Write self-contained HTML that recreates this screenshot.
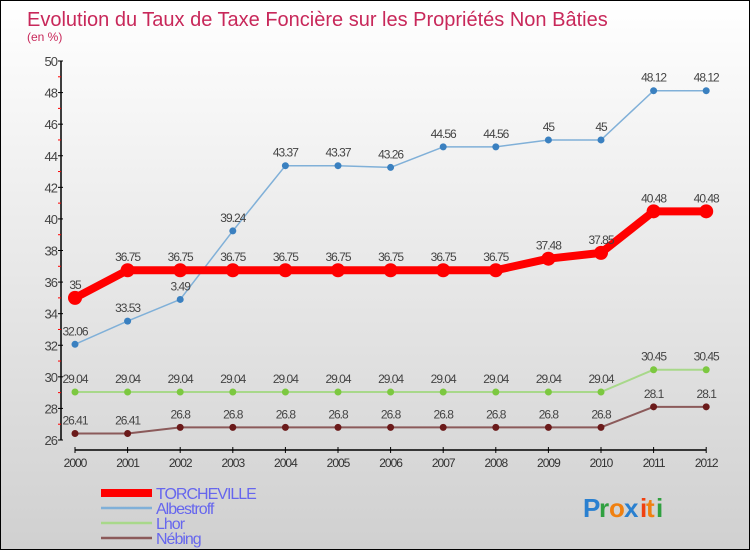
<!DOCTYPE html>
<html><head><meta charset="utf-8"><style>
body{margin:0}
#wrap{position:relative;width:748px;height:548px;border:1px solid #000;background:linear-gradient(#fff,#d0d0d0);font-family:"Liberation Sans",sans-serif;overflow:hidden}
</style></head><body>
<div id="wrap">
<svg id="svg" width="748" height="548"></svg>
</div>
<script>
const years=["2000","2001","2002","2003","2004","2005","2006","2007","2008","2009","2010","2011","2012"];
const torcheville=[35,36.75,36.75,36.75,36.75,36.75,36.75,36.75,36.75,37.48,37.85,40.48,40.48];
const albestroff=[32.06,33.53,34.9,39.24,43.37,43.37,43.26,44.56,44.56,45,45,48.12,48.12];
const albLabels=["32.06","33.53","3.49","39.24","43.37","43.37","43.26","44.56","44.56","45","45","48.12","48.12"];
const lhor=[29.04,29.04,29.04,29.04,29.04,29.04,29.04,29.04,29.04,29.04,29.04,30.45,30.45];
const nebing=[26.41,26.41,26.8,26.8,26.8,26.8,26.8,26.8,26.8,26.8,26.8,28.1,28.1];
const yTicks=[26,28,30,32,34,36,38,40,42,44,46,48,50];
const NS="http://www.w3.org/2000/svg",svg=document.getElementById('svg');
const X=i=>74+i*52.6, Y=v=>439-(v-26)*(379/24);
function el(t,a,p){const e=document.createElementNS(NS,t);for(const k in a)e.setAttribute(k,a[k]);(p||svg).appendChild(e);return e;}
function txt(x,y,s,a){const e=el('text',Object.assign({x:x,y:y},a));e.textContent=s;return e;}
let t=txt(26,25,"Evolution du Taux de Taxe Foncière sur les Propriétés Non Bâties",{fill:"#c8285a","font-size":"20"});

t=txt(26,40,"(en %)",{fill:"#c8285a","font-size":"12"});

// axes
let a=el('line',{x1:60,y1:Y(50),x2:60,y2:Y(26),stroke:"#000","stroke-width":1.5});

a=el('line',{x1:X(0),y1:449,x2:X(12),y2:449,stroke:"#000","stroke-width":1.5});

yTicks.forEach((v,i)=>{el('line',{x1:57,y1:Y(v),x2:62,y2:Y(v),stroke:"#000"});
 if(i<yTicks.length-1)el('line',{x1:57,y1:Y(v+1),x2:60,y2:Y(v+1),stroke:"#f00"});
 const l=txt(56,Y(v)+5,String(v),{fill:"#444","font-size":"13","text-anchor":"end","letter-spacing":"-1"});
 });
years.forEach((y,i)=>{el('line',{x1:X(i),y1:446,x2:X(i),y2:452,stroke:"#000"});
 const l=txt(X(i),466,y,{fill:"#333","font-size":"12","text-anchor":"middle","letter-spacing":"-1"});
 });
function series(name,vals,labels,color,dot,w,r,lc){
 const g=el('g',{});
 el('polyline',{points:vals.map((v,i)=>X(i)+','+Y(v)).join(' '),fill:"none",stroke:color,"stroke-width":w,"stroke-linejoin":"round"},g);
 vals.forEach((v,i)=>{const c=el('circle',{cx:X(i),cy:Y(v),r:r,fill:dot},g);
  
  const l=txt(X(i),Y(v)-9,labels[i],{fill:"#444","font-size":"12","text-anchor":"middle","letter-spacing":"-1"},g);
  });
}
series('nebing',nebing,nebing.map(String),"#8b5a5a","#6b1a1a",2,3.5);
series('lhor',lhor,lhor.map(String),"#a8d88a","#7cc840",2,3.5);
series('albestroff',albestroff,albLabels,"#80b0d8","#3a80c0",1.5,3.5);
series('torcheville',torcheville,torcheville.map(String),"#f00","#f00",8,7);
const leg=[["TORCHEVILLE","#f00",8],["Albestroff","#80b0d8",2.5],["Lhor","#a8d88a",2.5],["Nébing","#8b5a5a",2.5]];
leg.forEach((d,i)=>{const g=el('g',{});
 const y=492+i*15;el('line',{x1:100,y1:y,x2:151,y2:y,stroke:d[1],"stroke-width":d[2]},g);
 txt(155,y+6,d[0],{fill:"#6666ee","font-size":"16","letter-spacing":"-1"},g);});
const lg=el('g',{});
[["P","#2a80d0"],["r","#30a040"],["o","#f08010"],["x","#2a80d0"],["i","#f04010"],["t","#f08010"],["i","#30a040"]].forEach((c,i)=>{
 txt(582+[0,16,26,41,57,63,73][i],516,c[0],{fill:c[1],"font-size":"26","font-weight":"bold"},lg);});
</script>
</body></html>
